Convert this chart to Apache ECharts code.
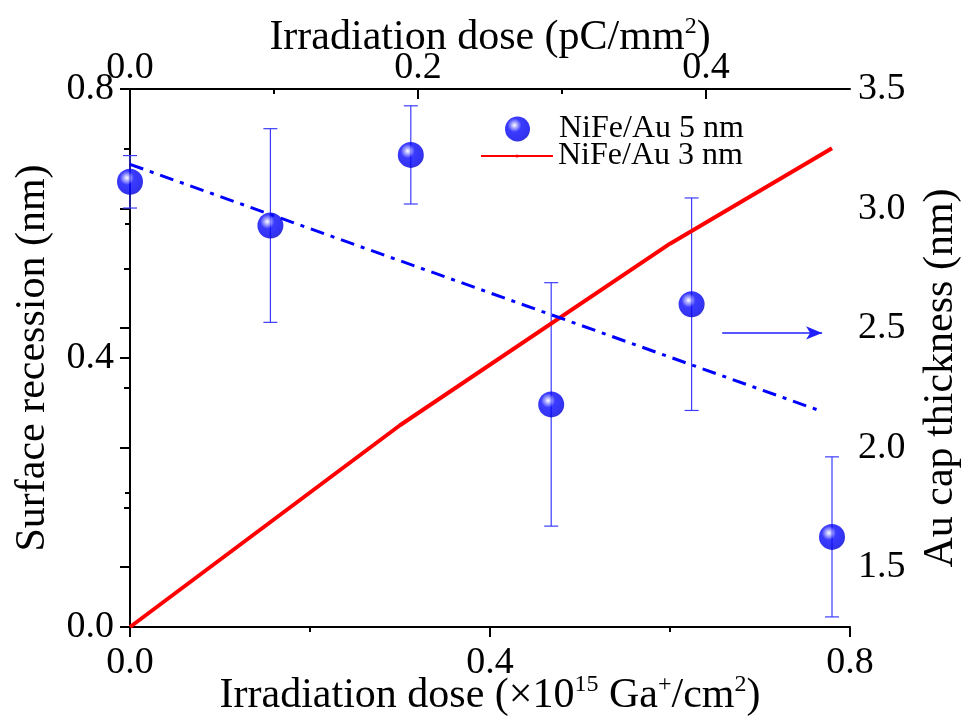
<!DOCTYPE html>
<html>
<head>
<meta charset="utf-8">
<script src="https://cdn.jsdelivr.net/npm/echarts@6/dist/echarts.min.js"></script>
<style>html,body{margin:0;padding:0;background:#fff;}#c{width:963px;height:727px;}</style>
</head>
<body>
<div id="c"></div>
<script>
// ---- data ----
const doseX = [0, 0.156, 0.312, 0.468, 0.624, 0.78];
const recession5 = [0.662, 0.597, 0.702, 0.331, 0.480, 0.134];
const recession5Err = [0.039, 0.144, 0.073, 0.181, 0.158, 0.119];
const recession3X = [0, 0.3, 0.6, 0.78];
const recession3Y = [0, 0.30, 0.57, 0.712];
const capFitX = [0, 0.77];
const capFitY = [3.185, 2.15];
const arrowX = [0.658, 0.769];
const arrowY = [2.48, 2.48];
const topTicks = [0, 0.2, 0.4];
const topMinorTicks = [0.1, 0.3];
const rightMajorTicks = [1.5, 2.0, 2.5, 3.0, 3.5];
const rightMinorTicks = [1.75, 2.25, 2.75, 3.25];
const seriesNames = ['NiFe/Au 5 nm', 'NiFe/Au 3 nm'];

const FONT = 'Liberation Serif';
const LBL = 38;
const TTL = 42;
const black = '#000';

const chart = echarts.init(document.getElementById('c'), null, {renderer: 'canvas'});
const sup = {sup: {fontSize: 24, verticalAlign: 'top', padding: [0, 0, 22, 0], fontFamily: FONT, color: black}};

const axisCommon = {
  axisLine: {show: true, lineStyle: {color: black, width: 2}},
  splitLine: {show: false},
  nameTextStyle: {fontFamily: FONT, fontSize: TTL, color: black, rich: sup}
};
const tickStyle = {color: black, width: 2};

const option = {
  animation: false,
  backgroundColor: '#fff',
  grid: {left: 130, right: 113, top: 89, bottom: 100, containLabel: false, outerBoundsMode: 'none'},
  legend: [
    {data: [seriesNames[0]], left: 500, top: 108, orient: 'vertical', itemWidth: 25, itemHeight: 25,
     textStyle: {fontFamily: FONT, fontSize: 32, color: black, padding: [0, 0, 0, 24]}},
    {data: [seriesNames[1]], left: 475, top: 135, orient: 'vertical', itemWidth: 72, itemHeight: 4,
     textStyle: {fontFamily: FONT, fontSize: 32, color: black}}
  ],
  xAxis: [
    Object.assign({}, axisCommon, {
      type: 'value', position: 'bottom', min: 0, max: 0.8, interval: 0.4,
      name: 'Irradiation dose (×10{sup|15} Ga{sup|+}/cm{sup|2})', nameLocation: 'middle', nameGap: 46,
      nameMoveOverlap: false,
      axisTick: {show: true, inside: false, length: 10, lineStyle: tickStyle},
      minorTick: {show: true, splitNumber: 2, length: 5, lineStyle: tickStyle},
      axisLabel: {fontFamily: FONT, fontSize: LBL, color: black, margin: 17, formatter: v => v.toFixed(1)}
    }),
    Object.assign({}, axisCommon, {
      type: 'value', position: 'top', min: 0, max: 0.5, interval: 0.1,
      name: 'Irradiation dose (pC/mm{sup|2})', nameLocation: 'middle', nameGap: 28,
      nameMoveOverlap: false,
      axisTick: {show: true, inside: true, length: 10, customValues: topTicks, lineStyle: tickStyle},
      axisLabel: {fontFamily: FONT, fontSize: LBL, color: black, margin: 2, customValues: topTicks, formatter: v => v.toFixed(1)}
    }),
    {
      type: 'value', position: 'top', min: 0, max: 0.5, interval: 0.1,
      axisLine: {show: false}, splitLine: {show: false}, axisLabel: {show: false},
      axisTick: {show: true, inside: true, length: 5, customValues: topMinorTicks, lineStyle: tickStyle}
    }
  ],
  yAxis: [
    Object.assign({}, axisCommon, {
      type: 'value', position: 'left', min: 0, max: 0.8, interval: 0.4,
      name: 'Surface recession (nm)', nameLocation: 'middle', nameGap: 76,
      axisTick: {show: true, inside: false, length: 10, lineStyle: tickStyle},
      minorTick: {show: true, splitNumber: 2, length: 5, lineStyle: tickStyle},
      axisLabel: {fontFamily: FONT, fontSize: LBL, color: black, margin: 16, formatter: v => v.toFixed(1)}
    }),
    Object.assign({}, axisCommon, {
      type: 'value', position: 'right', min: 1.25, max: 3.5, interval: 0.25,
      name: 'Au cap thickness (nm)', nameLocation: 'middle', nameGap: 70,
      nameTextStyle: {fontFamily: FONT, fontSize: TTL, color: black, padding: [0, 40, 0, 0]},
      axisTick: {show: true, inside: true, length: 10, customValues: rightMajorTicks, lineStyle: tickStyle},
      axisLabel: {fontFamily: FONT, fontSize: LBL, color: black, margin: 8, customValues: rightMajorTicks, formatter: v => v.toFixed(1)}
    }),
    {
      type: 'value', position: 'right', min: 1.25, max: 3.5, interval: 0.25,
      axisLine: {show: false}, splitLine: {show: false}, axisLabel: {show: false},
      axisTick: {show: true, inside: true, length: 6, customValues: rightMinorTicks, lineStyle: tickStyle}
    }
  ],
  series: [
    {
      type: 'custom', name: 'err', xAxisIndex: 0, yAxisIndex: 0, z: 2, silent: true,
      data: doseX.map((x, i) => [x, recession5[i] - recession5Err[i], recession5[i] + recession5Err[i]]),
      renderItem: function (params, api) {
        const lo = api.coord([api.value(0), api.value(1)]);
        const hi = api.coord([api.value(0), api.value(2)]);
        const w = 7;
        const st = {stroke: '#3c3cff', lineWidth: 1.2};
        return {type: 'group', children: [
          {type: 'line', shape: {x1: lo[0], y1: lo[1], x2: hi[0], y2: hi[1]}, style: st},
          {type: 'line', shape: {x1: lo[0] - w, y1: lo[1], x2: lo[0] + w, y2: lo[1]}, style: st},
          {type: 'line', shape: {x1: hi[0] - w, y1: hi[1], x2: hi[0] + w, y2: hi[1]}, style: st}
        ]};
      }
    },
    {
      type: 'scatter', name: seriesNames[0], xAxisIndex: 0, yAxisIndex: 0, z: 4,
      symbol: 'circle', symbolSize: 26,
      itemStyle: {color: {type: 'radial', x: 0.38, y: 0.35, r: 0.68, colorStops: [
        {offset: 0, color: '#ffffff'}, {offset: 0.15, color: '#a0a0ff'}, {offset: 0.4, color: '#0a0aff'},
        {offset: 0.85, color: '#0000f0'}, {offset: 1, color: '#0000cc'}]}},
      data: doseX.map((x, i) => [x, recession5[i]])
    },
    {
      type: 'line', name: seriesNames[1], xAxisIndex: 0, yAxisIndex: 0, z: 3,
      symbol: 'none', lineStyle: {color: '#ff0000', width: 4}, itemStyle: {color: '#ff0000'},
      data: recession3X.map((x, i) => [x, recession3Y[i]])
    },
    {
      type: 'line', name: 'fit', xAxisIndex: 0, yAxisIndex: 1, z: 3,
      symbol: 'none', lineStyle: {color: '#0000ff', width: 3, type: [14, 7, 4, 7]},
      data: capFitX.map((x, i) => [x, capFitY[i]])
    },
    {
      type: 'line', name: 'arrow', xAxisIndex: 0, yAxisIndex: 1, z: 3,
      lineStyle: {color: '#2020ff', width: 1.5}, itemStyle: {color: '#2020ff'},
      data: [
        {value: [arrowX[0], arrowY[0]], symbol: 'none'},
        {value: [arrowX[1], arrowY[1]], symbol: 'arrow', symbolSize: [10, 16], symbolRotate: -90}
      ]
    }
  ]
};
chart.setOption(option);
</script>
</body>
</html>
